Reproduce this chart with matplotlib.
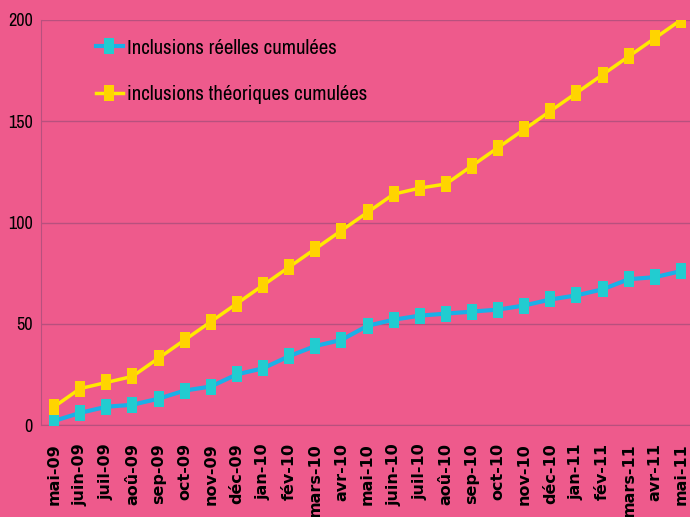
import matplotlib
matplotlib.use("Agg")
import matplotlib.pyplot as plt
from matplotlib.path import Path

months = ["mai-09", "juin-09", "juil-09", "aoû-09", "sep-09", "oct-09", "nov-09", "déc-09",
          "jan-10", "fév-10", "mars-10", "avr-10", "mai-10", "juin-10", "juil-10", "aoû-10",
          "sep-10", "oct-10", "nov-10", "déc-10", "jan-11", "fév-11", "mars-11", "avr-11", "mai-11"]
reelles = [2, 6, 9, 10, 13, 17, 19, 25, 28, 34, 39, 42, 49, 52, 54, 55, 56, 57, 59, 62, 64, 67, 72, 73, 76]
theoriques = [9, 18, 21, 24, 33, 42, 51, 60, 69, 78, 87, 96, 105, 114, 117, 119, 128, 137, 146, 155,
              164, 173, 182, 191, 200]

bg = "#ee5a8c"
narrow = ["Liberation Sans Narrow", "Archivo Narrow", "PT Sans Narrow", "Roboto Condensed",
          "Arimo", "DejaVu Sans"]

# tall rectangle marker
rect = Path([(-0.3, -0.5), (0.3, -0.5), (0.3, 0.5), (-0.3, 0.5), (-0.3, -0.5)],
            [Path.MOVETO, Path.LINETO, Path.LINETO, Path.LINETO, Path.CLOSEPOLY])

fig = plt.figure(figsize=(6.9, 5.17), dpi=100, facecolor=bg)
ax = fig.add_axes([41 / 690, 1 - 425 / 517, 653 / 690, 405 / 517])
ax.set_facecolor(bg)

x = list(range(len(months)))
ax.plot(x, reelles, color="#1ab0e8", lw=3, marker=rect, markersize=12, markeredgewidth=0,
        markerfacecolor="#22ccd0", label="Inclusions réelles cumulées", zorder=3)
ax.plot(x, theoriques, color="#ffea00", lw=2.5, marker=rect, markersize=12, markeredgewidth=0,
        markerfacecolor="#ffd400", label="inclusions théoriques cumulées", zorder=3)

ax.set_xlim(-0.5, 24.5)
ax.set_ylim(0, 200)
ax.set_yticks([0, 50, 100, 150, 200])
ax.yaxis.grid(True, color="#b8507e", lw=1)
ax.set_axisbelow(True)

ax.set_xticks(x)
ax.set_xticklabels(months, rotation=90, va="top", ha="center",
                   fontsize=11.5, fontweight="bold", family="DejaVu Sans")
for lab in ax.get_yticklabels():
    lab.set_family(narrow)
    lab.set_fontsize(13)

ax.tick_params(axis="both", length=0)
ax.tick_params(axis="x", pad=13)
ax.tick_params(axis="y", pad=6)

for s in ["top", "right"]:
    ax.spines[s].set_visible(False)
for s in ["left", "bottom"]:
    ax.spines[s].set_color("#b8507e")

leg = ax.legend(loc="upper left", bbox_to_anchor=(0.055, 1.0), frameon=False,
                prop={"family": narrow, "size": 15}, handlelength=1.3,
                handletextpad=0.2, labelspacing=1.3)

fig.savefig("out.png", dpi=100, facecolor=bg)
